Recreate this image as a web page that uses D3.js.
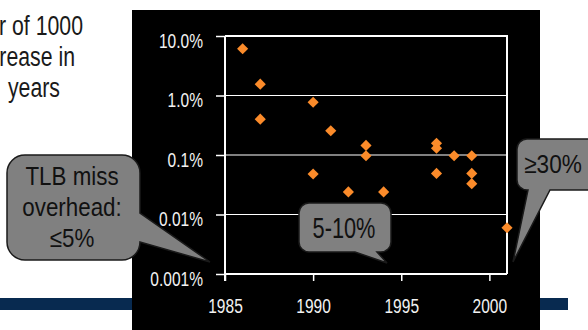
<!DOCTYPE html>
<html>
<head>
<meta charset="utf-8">
<script src="https://cdn.jsdelivr.net/npm/d3@7"></script>
<style>
  body { margin: 0; background: #fff; }
  svg { display: block; font-family: "Liberation Sans", Arial, sans-serif; }
</style>
</head>
<body>
<div id="chart"></div>
<script>
// data (miss rate in %)
const years = [1986, 1987, 1987, 1990, 1990, 1991, 1992, 1993, 1993, 1994, 1997, 1997, 1997, 1998, 1999, 1999, 1999, 2001];
const missRates = [6.1, 1.55, 0.40, 0.77, 0.048, 0.256, 0.024, 0.145, 0.097, 0.024, 0.157, 0.13, 0.049, 0.097, 0.097, 0.049, 0.033, 0.006];
const yTicks = [10, 1, 0.1, 0.01, 0.001];
const yTickLabels = ["10.0%", "1.0%", "0.1%", "0.01%", "0.001%"];
const xTicks = [1985, 1990, 1995, 2000];
const xDomain = [1985, 2001];
const noteLines = ["r of 1000", "rease in", "years"];
const tlbLines = ["TLB miss", "overhead:", "\u22645%"];
const midLabel = "5-10%";
const rightLabel = "\u226530%";

const width = 588, height = 330;
const plot = {left: 225, right: 507, top: 36, bottom: 274};
const squeeze = 0.74;   // chart text looks horizontally squashed

const svg = d3.select("#chart").append("svg")
    .attr("width", width)
    .attr("height", height);

// slide decoration: blue bar behind the black chart panel
svg.append("rect")
  .attr("x", 0).attr("y", 298).attr("width", 568).attr("height", 12)
  .attr("fill", "#082a50");

svg.append("rect")
  .attr("x", 132).attr("y", 10).attr("width", 408).attr("height", 330)
  .attr("fill", "#000");

// top-left note (cut at the left edge)
const noteEnds = [83, 75, 60], noteBase = [35, 66, 97];
noteLines.forEach((t, i) => {
  svg.append("text")
    .attr("transform", `translate(${noteEnds[i]},${noteBase[i]}) scale(0.76,1)`)
    .attr("text-anchor", "end")
    .style("font-size", "28px")
    .style("fill", "#1a1a1a")
    .text(t);
});

const x = d3.scaleLinear().domain(xDomain).range([plot.left, plot.right]);
const y = d3.scaleLog().domain([0.001, 10]).range([plot.bottom, plot.top]);

// gridlines
svg.append("g")
  .selectAll("line")
  .data(yTicks.slice(1, 4))
  .enter().append("line")
    .attr("x1", plot.left).attr("x2", plot.right)
    .attr("y1", d => y(d)).attr("y2", d => y(d))
    .attr("stroke", "#fff")
    .attr("stroke-width", 1.2);

// frame top + right
svg.append("path")
  .attr("d", `M${plot.left},${y(10)}H${plot.right}V${plot.bottom}`)
  .attr("fill", "none")
  .attr("stroke", "#fff")
  .attr("stroke-width", 2);

const yAxis = svg.append("g")
  .attr("transform", `translate(${plot.left},0)`)
  .call(d3.axisLeft(y).tickValues(yTicks).tickSize(9).tickFormat((d, i) => yTickLabels[i]));
yAxis.select(".domain").attr("stroke", "#fff").attr("stroke-width", 2)
  .attr("d", `M0,${plot.top}V${plot.bottom + 7}`);
yAxis.selectAll(".tick line").attr("stroke", "#fff").attr("stroke-width", 1.5);
yAxis.selectAll(".tick text")
  .attr("x", null).attr("dy", null)
  .attr("transform", `translate(-22,11) scale(${squeeze},1)`)
  .style("font-size", "21px")
  .style("fill", "#f2f2f2");

const xAxis = svg.append("g")
  .attr("transform", `translate(0,${plot.bottom})`)
  .call(d3.axisBottom(x).tickValues(xTicks).tickSize(7).tickFormat(d3.format("d")));
xAxis.select(".domain").attr("stroke", "#fff").attr("stroke-width", 2)
  .attr("d", `M${plot.left},0H${plot.right}`);
xAxis.selectAll(".tick line").attr("stroke", "#fff").attr("stroke-width", 1.5);
xAxis.selectAll(".tick text")
  .attr("y", null).attr("dy", null)
  .attr("transform", `translate(0,39) scale(${squeeze},1)`)
  .style("font-size", "21px")
  .style("fill", "#f2f2f2");

// points
const diamond = d3.symbol().type(d3.symbolSquare).size(62);
svg.append("g")
  .selectAll("path")
  .data(years)
  .enter().append("path")
    .attr("d", diamond)
    .attr("transform", (d, i) => `translate(${x(d)},${y(missRates[i])}) rotate(45)`)
    .attr("fill", "#fb8b2a");

// callout boxes
function callout(bx, by, w, h, r, tail) {
  const p = d3.path();
  p.moveTo(bx + r, by);
  p.lineTo(bx + w - r, by);
  p.arcTo(bx + w, by, bx + w, by + r, r);
  if (tail.side === "right") {
    p.lineTo(bx + w, tail.a);
    p.lineTo(tail.tip[0], tail.tip[1]);
    p.lineTo(bx + w, tail.b);
  }
  p.lineTo(bx + w, by + h - r);
  p.arcTo(bx + w, by + h, bx + w - r, by + h, r);
  if (tail.side === "bottom") {
    p.lineTo(tail.a, by + h);
    p.lineTo(tail.tip[0], tail.tip[1]);
    p.lineTo(tail.b, by + h);
  }
  p.lineTo(bx + r, by + h);
  p.arcTo(bx, by + h, bx, by + h - r, r);
  p.lineTo(bx, by + r);
  p.arcTo(bx, by, bx + r, by, r);
  p.closePath();
  return p.toString();
}

function drawBox(d, lines, cx, baselines, size, sx) {
  svg.append("path")
    .attr("d", d)
    .attr("fill", "#808080")
    .attr("stroke", "#1a1a1a")
    .attr("stroke-width", 1.5);
  lines.forEach((t, i) => {
    svg.append("text")
      .attr("transform", `translate(${cx},${baselines[i]}) scale(${sx},1)`)
      .attr("text-anchor", "middle")
      .style("font-size", size + "px")
      .style("fill", "#111")
      .text(t);
  });
}

drawBox(callout(7, 155, 133, 105, 18, {side: "right", a: 213, b: 242, tip: [210, 262]}),
  tlbLines, 72, [185, 216, 247], 26, 0.86);
drawBox(callout(299, 203, 92, 49, 10, {side: "bottom", a: 377, b: 355, tip: [387, 263]}),
  [midLabel], 344, [238], 29, 0.75);
drawBox(callout(517, 139, 100, 51, 10, {side: "bottom", a: 550, b: 528, tip: [513, 262]}),
  [rightLabel], 553, [173], 26, 0.87);
</script>
</body>
</html>
